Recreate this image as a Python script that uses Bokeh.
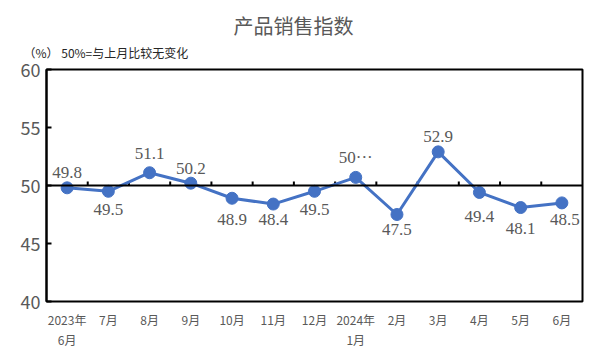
from bokeh.plotting import figure
from bokeh.models import (Range1d, FixedTicker, Span, ColumnDataSource, LabelSet, Title)
from bokeh.embed import file_html
from bokeh.resources import INLINE

months = ["2023年\n6月", "7月", "8月", "9月", "10月", "11月", "12月", "2024年\n1月",
          "2月", "3月", "4月", "5月", "6月"]
values = [49.8, 49.5, 51.1, 50.2, 48.9, 48.4, 49.5, 50.7, 47.5, 52.9, 49.4, 48.1, 48.5]
value_labels = ["49.8", "49.5", "51.1", "50.2", "48.9", "48.4", "49.5", "50···",
                "47.5", "52.9", "49.4", "48.1", "48.5"]
y_ticks = [40, 45, 50, 55, 60]
title_text = "产品销售指数"
note_text = "（%）  50%=与上月比较无变化"

# label offsets (style, pixels)
lab_dy = [15, -18, 19, 15, -21, -15, -18, 20, -15, 15, -24, -21, -17]
lab_dx = [0, 0, 0, 0, 0, 0, 0, 0, 0, 0, 0, 0, 3]

FONT = "Noto Sans CJK SC"
GREY = "#595959"
BLUE = "#4472C4"

n = len(months)
xs = [i + 0.5 for i in range(n)]

p = figure(width=591, height=354, output_backend="svg", toolbar_location=None,
           x_range=Range1d(0, n), y_range=Range1d(40, 60),
           min_border_left=46, min_border_right=9, min_border_top=69, min_border_bottom=53)
p.grid.visible = False
p.outline_line_color = "black"
p.outline_line_width = 2
p.background_fill_color = "white"
p.border_fill_color = "white"

xa = p.xaxis[0]
xa.ticker = FixedTicker(ticks=xs)
xa.major_label_overrides = {x: m for x, m in zip(xs, months)}
xa.axis_line_color = None
xa.major_tick_line_color = None
xa.minor_tick_line_color = None
xa.major_label_text_font = FONT
xa.major_label_text_font_size = "12px"
xa.major_label_text_color = GREY
xa.major_label_standoff = 3

ya = p.yaxis[0]
ya.ticker = FixedTicker(ticks=y_ticks)
ya.axis_line_color = "black"
ya.axis_line_width = 2
ya.major_tick_line_color = "black"
ya.major_tick_line_width = 2
ya.major_tick_in = 5
ya.major_tick_out = 0
ya.minor_tick_line_color = None
ya.major_label_text_font = FONT
ya.major_label_text_font_size = "18px"
ya.major_label_text_color = GREY
ya.major_label_standoff = 6

p.add_layout(Span(location=50, dimension="width", line_color="black", line_width=2))
bx = list(range(1, n))
p.segment(x0=bx, y0=[50] * len(bx), x1=bx, y1=[50.35] * len(bx), line_color="black", line_width=2)

src = ColumnDataSource(dict(x=xs, y=values, t=value_labels, dx=lab_dx, dy=lab_dy))
p.line("x", "y", source=src, line_color=BLUE, line_width=3)
p.scatter("x", "y", source=src, size=12, fill_color=BLUE, line_color=BLUE)
p.add_layout(LabelSet(x="x", y="y", text="t", source=src, x_offset="dx", y_offset="dy",
                      text_align="center", text_baseline="middle",
                      text_font=FONT, text_font_size="17px", text_color=GREY))

p.add_layout(Title(text=note_text, align="left", offset=-23, standoff=17,
                   text_font=FONT, text_font_size="12px", text_color="#262626",
                   text_font_style="normal"), "above")
p.add_layout(Title(text=title_text, align="left", offset=187, standoff=-13,
                   text_font=FONT, text_font_size="20px", text_color=GREY,
                   text_font_style="normal"), "above")

open("out.html", "w").write(file_html(p, INLINE))
